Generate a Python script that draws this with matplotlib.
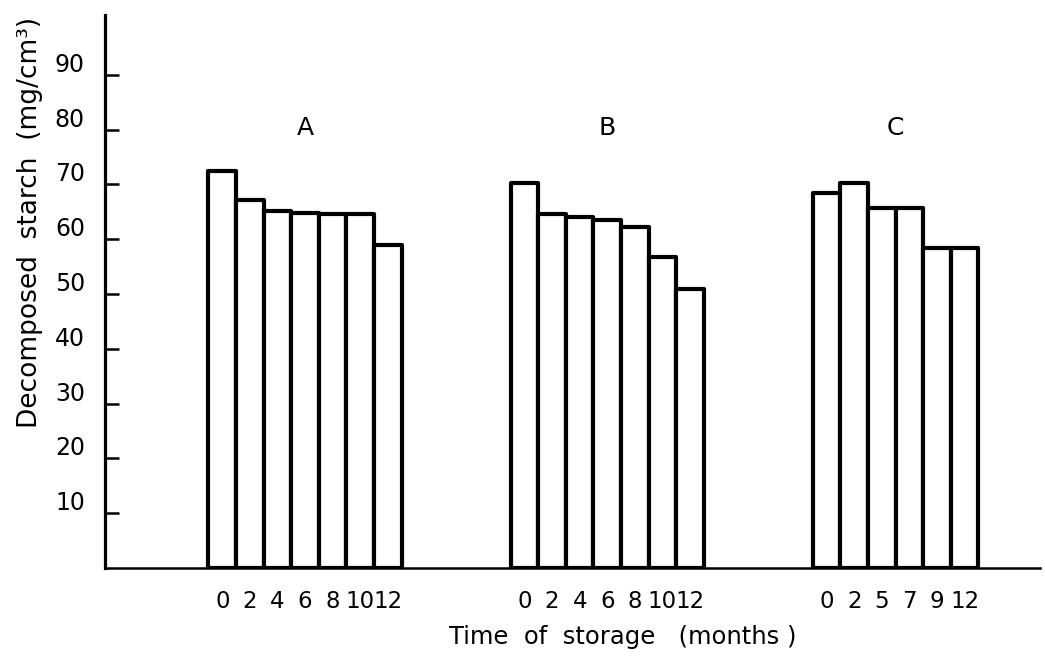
import matplotlib
matplotlib.use("Agg")
import matplotlib.pyplot as plt
from matplotlib.transforms import ScaledTranslation, blended_transform_factory

# ---- data ----
groups = ["A", "B", "C"]
months_A = ["0", "2", "4", "6", "8", "10", "12"]
months_B = ["0", "2", "4", "6", "8", "10", "12"]
months_C = ["0", "2", "5", "7", "9", "12"]
starch_A = [72.5, 67.2, 65.2, 64.7, 64.6, 64.6, 58.9]
starch_B = [70.3, 64.6, 64.0, 63.5, 62.3, 56.7, 50.9]
starch_C = [68.4, 70.3, 65.6, 65.6, 58.3, 58.3]
y_ticks = [10, 20, 30, 40, 50, 60, 70, 80, 90]

# ---- layout ----
group_starts = [3.75, 14.7, 25.65]
bar_w = 1.0

fig = plt.figure(figsize=(10.45, 6.6), dpi=100)
ax = fig.add_axes([105/1045, 92/660, 935/1045, 553/660])
ax.set_xlim(0, 33.88)
ax.set_ylim(0, 100.9)

all_months = [months_A, months_B, months_C]
all_vals = [starch_A, starch_B, starch_C]
xt, xl = [], []
for g, start, months, vals in zip(groups, group_starts, all_months, all_vals):
    xs = [start + bar_w * (i + 0.5) for i in range(len(vals))]
    ax.bar(xs, vals, width=bar_w, facecolor="white", edgecolor="black",
           linewidth=3.0, joinstyle="round")
    xt += xs
    xl += months
    ax.text(start + bar_w * len(vals) / 2, 80.3, g, ha="center", va="center",
            fontsize=18)

for s in ["top", "right"]:
    ax.spines[s].set_visible(False)
ax.spines["left"].set_linewidth(2.3)
ax.spines["bottom"].set_linewidth(1.8)

ax.set_xticks(xt)
ax.set_xticklabels(xl, fontsize=16.5)
ax.tick_params(axis="x", length=0, pad=16)

ax.set_yticks(y_ticks)
ax.set_yticklabels([])
ax.tick_params(axis="y", direction="in", length=10, width=1.8)
trans = blended_transform_factory(ax.transAxes, ax.transData) + \
    ScaledTranslation(-0.20, 0.10, fig.dpi_scale_trans)
for v in y_ticks:
    ax.text(0, v, str(v), transform=trans, ha="right", va="center", fontsize=17)

fig.text(30/1045, 1 - 222/660, "Decomposed  starch  (mg/cm³)", rotation=90,
         ha="center", va="center", fontsize=19)
fig.text(623/1045, 1 - 637/660, "Time  of  storage   (months )",
         ha="center", va="center", fontsize=17.5)

fig.savefig("out.png", dpi=100, facecolor="white")
